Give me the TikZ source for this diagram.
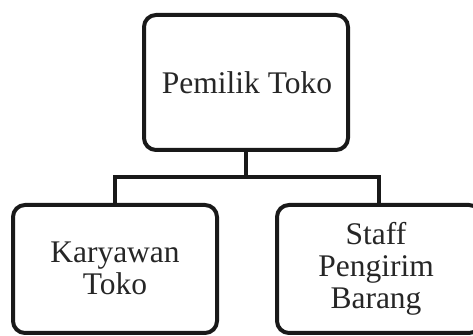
\documentclass[tikz,border=0pt]{standalone}
\usepackage{fontspec}
\setmainfont{Liberation Serif}
\begin{document}
\begin{tikzpicture}[x=1pt,y=1pt,
  orgbox/.style={draw=black!90, line width=4pt, rounded corners=12pt, minimum width=204pt, inner sep=0pt},
  lbl/.style={align=center, font=\fontsize{31.5}{32}\selectfont, text=black!85},
  conn/.style={draw=black!90, line width=4pt}]
\useasboundingbox (0,0) rectangle (473,336);
\node[orgbox, minimum height=135pt] (top) at (246,253.5) {};
\node[orgbox, minimum height=128pt] (left) at (115,67) {};
\node[orgbox, minimum height=128pt] (right) at (379,67) {};
\node[lbl] (ttop) at (247,253) {Pemilik Toko};
\node[lbl] (tleft) at (115,68) {Karyawan\\Toko};
\node[lbl] (tright) at (376,67) {Staff\\Pengirim\\Barang};
\coordinate (bus) at (246,159);
\draw[conn] (top.south) -- (bus);
\draw[conn] (left.north) |- (bus);
\draw[conn] (right.north) |- (bus);
\end{tikzpicture}
\end{document}
